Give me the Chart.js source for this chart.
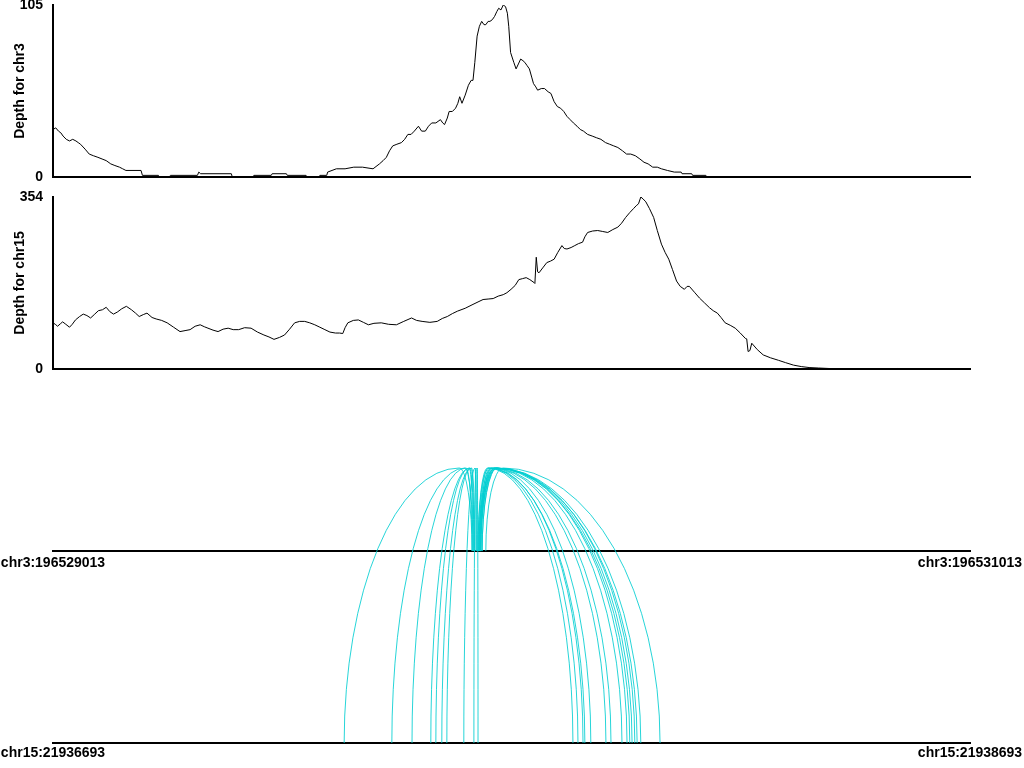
<!DOCTYPE html>
<html>
<head>
<meta charset="utf-8">
<script src="https://cdn.jsdelivr.net/npm/chart.js@4.4.1/dist/chart.umd.min.js"></script>
<style>
html,body{margin:0;padding:0;background:#ffffff;width:1024px;height:768px;overflow:hidden;}
body{position:relative;}
canvas{position:absolute;left:0;}
</style>
</head>
<body>
<canvas id="c3depth" width="1024" height="210" style="top:-20px"></canvas>
<canvas id="c15depth" width="1024" height="210" style="top:180px"></canvas>
<canvas id="carcs" width="1024" height="368" style="top:400px"></canvas>
<script>
// ---------------- data ----------------
const chr3Start = 196529013;
const chr3End = 196531013;
const chr15Start = 21936693;
const chr15End = 21938693;

const chr3DepthMax = 105;
const chr15DepthMax = 354;

// depth for chr3: bp offsets from chr3Start and depth values
const chr3DepthOffsets = [0,6,12,17,22,29,36,43,50,55,60,70,79,88,98,107,116,126,135,145,152,159,192,195,230,232,254,256,315,318,322,389,391,436,438,476,478,509,511,552,554,580,582,597,599,618,637,656,675,698,712,720,727,734,741,750,760,767,774,781,788,797,804,812,819,826,835,845,850,854,860,864,871,878,883,887,892,899,906,912,916,920,925,930,935,940,944,949,953,958,963,968,972,977,982,987,991,994,998,1005,1010,1015,1020,1025,1029,1034,1039,1044,1048,1053,1057,1065,1072,1080,1086,1093,1100,1107,1114,1121,1128,1135,1143,1150,1157,1166,1176,1185,1195,1205,1214,1223,1232,1242,1251,1260,1270,1280,1289,1298,1308,1318,1327,1340,1355,1370,1372,1393,1395,1424,1426,2000];
const chr3Depth = [29,30,28,27,25,23,22,23,22,21,20,17,14,13,12,11,10,8,7,6,5,4,4,1,1,0,0,1,1,3,2,2,0,0,1,1,2,2,1,1,0,0,1,1,3,5,5,6,6,5,8,10,12,16,19,20,21,23,26,26,28,31,28,28,31,33,33,35,33,32,36,40,40,42,45,49,45,50,56,59,59,70,86,92,95,93,93,95,95,96,98,101,103,102,105,104,100,92,76,70,66,69,72,71,70,68,66,61,57,55,53,54,54,52,51,46,43,42,40,37,35,33,31,29,28,26,25,24,23,21,20,19,18,16,14,14,13,11,9,8,6,6,5,4,3,3,2,2,1,1,0,0];

// depth for chr15: bp offsets from chr15Start and depth values
const chr15DepthOffsets = [0,5,10,16,21,28,36,42,49,58,66,74,82,90,99,108,116,124,132,140,150,160,171,180,188,197,205,216,225,237,249,263,277,288,299,310,321,330,338,349,360,371,382,393,405,418,432,446,460,471,482,494,505,516,527,538,549,560,571,582,593,604,616,625,632,637,643,655,666,677,688,700,716,732,749,765,782,793,805,822,838,849,860,871,882,899,916,927,938,949,960,971,982,990,999,1008,1016,1024,1032,1040,1049,1051,1054,1057,1060,1068,1077,1085,1093,1101,1110,1115,1121,1130,1138,1146,1155,1160,1166,1177,1188,1199,1210,1221,1232,1240,1249,1258,1266,1272,1277,1282,1287,1293,1301,1310,1318,1327,1335,1343,1351,1360,1368,1377,1383,1388,1399,1410,1421,1432,1440,1449,1457,1466,1477,1488,1499,1510,1513,1516,1520,1524,1536,1549,1565,1582,1598,1615,1632,1649,1670,1693,1710,1838,1841,1845,2000];
const chr15Depth = [95,92,88,93,97,92,86,92,101,108,113,110,105,112,120,122,127,118,113,117,124,129,122,115,108,112,115,106,103,100,95,86,77,79,81,88,91,87,84,80,77,82,84,81,81,85,84,76,70,66,61,65,70,82,95,98,98,95,91,86,81,76,74,74,73,85,95,100,101,96,91,94,95,92,91,98,105,100,98,96,98,104,108,114,119,125,133,138,143,144,145,150,153,157,164,172,184,186,188,184,178,176,230,200,198,208,219,222,226,240,254,248,247,250,254,258,261,272,281,284,285,283,281,287,292,300,312,322,330,336,340,354,350,344,330,312,285,257,240,226,205,181,170,164,170,170,158,146,136,126,120,115,106,95,90,84,74,63,62,36,38,53,40,29,23,18,13,8,5,3,2,1,0,0,1,0,0];

// split-read connections: chr3 position -> chr15 position (bp offsets from each start)
const arcChr3Offsets  = [914,916,914,918,916,920,918,923,923,925,927,929,931,927,933,929,931,933,936,931,933,936,929,933,944];
const arcChr15Offsets = [635,739,783,824,835,848,859,896,918,927,1134,1145,1156,1160,1173,1206,1217,1241,1252,1258,1263,1269,1274,1282,1324];

// tick labels
const chr3Labels = ['chr3:' + chr3Start, 'chr3:' + chr3End];
const chr15Labels = ['chr15:' + chr15Start, 'chr15:' + chr15End];
const depthTitles = ['Depth for chr3', 'Depth for chr15'];

// ---------------- styles ----------------
const FONT = {family: '"Liberation Sans", Arial, Helvetica, sans-serif', size: 14, weight: 'bold'};
const ARC_COLOR = 'rgba(0,206,209,0.85)';
const CHR3_LEVEL = 0.698;   // level of the chr3 track inside the arc panel (chr15 = 0, arc top = 1)
const APEX_SHIFT = 0.1;

Chart.defaults.font.family = FONT.family;
Chart.defaults.color = '#000';

function depthChart(id, start, end, offsets, depth, maxVal, title, padTop, padBottom) {
  const data = offsets.map((o, i) => ({x: start + o, y: depth[i]}));
  return new Chart(document.getElementById(id), {
    type: 'line',
    data: {datasets: [{data, borderColor: '#000', borderWidth: 1, pointRadius: 0, tension: 0, fill: false}]},
    options: {
      responsive: false, animation: false, events: [],
      layout: {padding: {left: 0, right: 54, top: padTop, bottom: padBottom}},
      plugins: {legend: {display: false}, tooltip: {enabled: false}},
      scales: {
        x: {
          type: 'linear', min: start, max: end,
          ticks: {display: false},
          grid: {drawOnChartArea: false, drawTicks: false},
          border: {display: true, color: '#000', width: 2},
          afterFit(a) { a.height = 0; a.paddingLeft = 0; a.paddingRight = 0; }
        },
        y: {
          type: 'linear', min: 0, max: maxVal,
          afterBuildTicks(a) { a.ticks = [{value: 0}, {value: maxVal}]; },
          ticks: {font: FONT, color: '#000', padding: 10, callback: v => String(v)},
          grid: {drawOnChartArea: false, drawTicks: false},
          border: {display: true, color: '#000', width: 2},
          title: {display: true, text: title, font: FONT, color: '#000', padding: {top: 12, bottom: 0}},
          afterFit(a) { a.width = 53; a.paddingTop = 0; a.paddingBottom = 0; }
        }
      }
    }
  });
}

depthChart('c3depth', chr3Start, chr3End, chr3DepthOffsets, chr3Depth, chr3DepthMax, depthTitles[0], 25, 13);
depthChart('c15depth', chr15Start, chr15End, chr15DepthOffsets, chr15Depth, chr15DepthMax, depthTitles[1], 17, 21);

const arcPlugin = {
  id: 'splitArcs',
  afterDatasetsDraw(chart) {
    const {ctx} = chart;
    const sx3 = chart.scales.x3, sx15 = chart.scales.x15, sy = chart.scales.y;
    const y3 = sy.getPixelForValue(CHR3_LEVEL);
    const y15 = sy.getPixelForValue(0);
    const yA = sy.getPixelForValue(1);
    ctx.save();
    ctx.strokeStyle = ARC_COLOR;
    ctx.lineWidth = 1;
    for (let i = 0; i < arcChr3Offsets.length; i++) {
      const p3 = sx3.getPixelForValue(chr3Start + arcChr3Offsets[i]);
      const p15 = sx15.getPixelForValue(chr15Start + arcChr15Offsets[i]);
      const xa = p3 + APEX_SHIFT * (p15 - p3);
      const r1 = Math.max(Math.abs(p3 - xa), 0.01);
      const r2 = Math.max(Math.abs(p15 - xa), 0.01);
      ctx.beginPath();
      if (p15 < p3) {
        ctx.ellipse(xa, y3, r1, y3 - yA, 0, 0, -Math.PI / 2, true);
        ctx.ellipse(xa, y15, r2, y15 - yA, 0, -Math.PI / 2, -Math.PI, true);
      } else {
        ctx.ellipse(xa, y3, r1, y3 - yA, 0, Math.PI, Math.PI * 1.5, false);
        ctx.ellipse(xa, y15, r2, y15 - yA, 0, -Math.PI / 2, 0, false);
      }
      ctx.stroke();
    }
    ctx.restore();
  }
};

function endTicks(a) { a.ticks = [{value: a.min}, {value: a.max}]; }

new Chart(document.getElementById('carcs'), {
  type: 'scatter',
  data: {datasets: []},
  options: {
    responsive: false, animation: false, events: [],
    layout: {padding: {left: 53, right: 54, top: 68, bottom: 0}},
    plugins: {legend: {display: false}, tooltip: {enabled: false}},
    scales: {
      y: {type: 'linear', min: 0, max: 1, display: false},
      x15: {
        type: 'linear', axis: 'x', position: 'bottom', min: chr15Start, max: chr15End,
        afterBuildTicks: endTicks,
        ticks: {font: FONT, color: '#000', padding: 2, maxRotation: 0, autoSkip: false,
                callback: (v, i) => chr15Labels[i]},
        grid: {drawOnChartArea: false, drawTicks: false},
        border: {display: true, color: '#000', width: 2},
        afterFit(a) { a.height = 25; a.paddingLeft = 0; a.paddingRight = 0; }
      },
      x3: {
        type: 'linear', axis: 'x', position: {y: CHR3_LEVEL}, min: chr3Start, max: chr3End,
        afterBuildTicks: endTicks,
        ticks: {font: FONT, color: '#000', padding: 4, maxRotation: 0, autoSkip: false,
                callback: (v, i) => chr3Labels[i]},
        grid: {drawOnChartArea: false, drawTicks: false},
        border: {display: true, color: '#000', width: 2},
        afterFit(a) { a.paddingLeft = 0; a.paddingRight = 0; }
      }
    }
  },
  plugins: [arcPlugin]
});
</script>
</body>
</html>
